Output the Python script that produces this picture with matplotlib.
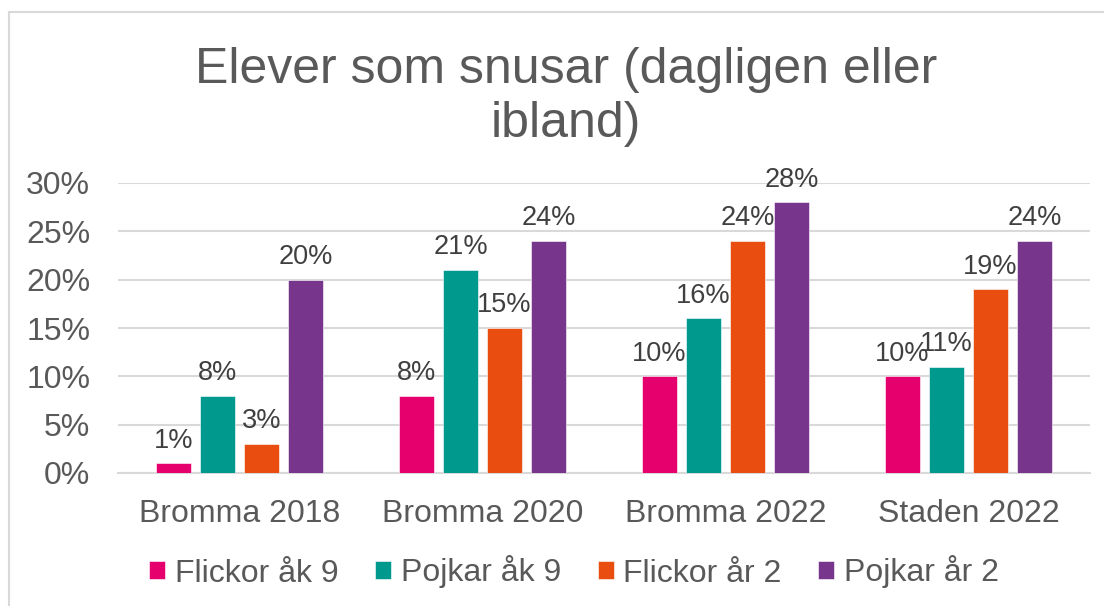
import matplotlib
matplotlib.use("Agg")
import matplotlib.pyplot as plt
import numpy as np
from matplotlib.lines import Line2D

plt.rcParams['font.family'] = ['Liberation Sans', 'DejaVu Sans']

categories = ["Bromma 2018", "Bromma 2020", "Bromma 2022", "Staden 2022"]
series_names = ["Flickor åk 9", "Pojkar åk 9", "Flickor år 2", "Pojkar år 2"]
flickor_ak9 = [0.01, 0.08, 0.10, 0.10]
pojkar_ak9 = [0.08, 0.21, 0.16, 0.11]
flickor_ar2 = [0.03, 0.15, 0.24, 0.19]
pojkar_ar2 = [0.20, 0.24, 0.28, 0.24]
yticks = [0, 0.05, 0.10, 0.15, 0.20, 0.25, 0.30]
ytick_labels = ["0%", "5%", "10%", "15%", "20%", "25%", "30%"]
title = "Elever som snusar (dagligen eller\nibland)"

colors = ["#E5006E", "#00998E", "#E94E10", "#77368B"]
series = [flickor_ak9, pojkar_ak9, flickor_ar2, pojkar_ar2]

W, H = 1104, 606
fig = plt.figure(figsize=(W / 100, H / 100), dpi=100)
ax = fig.add_axes([118 / W, 1 - 473 / H, (1090 - 118) / W, (473 - 183) / H])

x = np.arange(len(categories))
bw = 0.144
step = 0.181
offsets = [-1.5 * step, -0.5 * step, 0.5 * step, 1.5 * step]
for vals, col, off, name in zip(series, colors, offsets, series_names):
    bars = ax.bar(x + off, vals, width=bw, color=col, label=name,
                  edgecolor='white', linewidth=0.4, zorder=3)
    for b, v in zip(bars, vals):
        ax.annotate(f"{round(v * 100)}%", (b.get_x() + b.get_width() / 2, v),
                    xytext=(0, 7), textcoords='offset points',
                    ha='center', va='bottom', fontsize=19.5, color='#404040',
                    zorder=4)

ax.set_xlim(-0.5, len(categories) - 0.5)
ax.set_ylim(0, 0.30)
ax.set_yticks(yticks)
ax.set_yticklabels(ytick_labels)
ax.set_xticks(x)
ax.set_xticklabels(categories)
ax.tick_params(axis='both', length=0, labelsize=23, colors='#595959')
ax.tick_params(axis='x', pad=19)
ax.tick_params(axis='y', pad=20)
ax.grid(axis='y', color='#D9D9D9', linewidth=1.5, zorder=0)
ax.set_axisbelow(True)
for s in ['top', 'right', 'left']:
    ax.spines[s].set_visible(False)
ax.spines['bottom'].set_color('#D9D9D9')
ax.spines['bottom'].set_linewidth(1.5)

fig.text(566 / W, 1 - 97 / H, title, ha='center', va='center',
         fontsize=36, color='#595959', linespacing=1.22)

leg = fig.legend(loc='center', bbox_to_anchor=(574 / W, 1 - 572 / H), ncol=4,
                 frameon=False, fontsize=23, handlelength=0.5, handleheight=0.5,
                 handletextpad=0.3, columnspacing=1.15, labelcolor='#595959')

# chart border (top and left visible)
fig.add_artist(Line2D([9 / W, 1.0], [1 - 12 / H, 1 - 12 / H], color='#D9D9D9',
                      linewidth=1.5, transform=fig.transFigure))
fig.add_artist(Line2D([9 / W, 9 / W], [0, 1 - 12 / H], color='#D9D9D9',
                      linewidth=1.5, transform=fig.transFigure))

fig.savefig("out.png", dpi=100)
